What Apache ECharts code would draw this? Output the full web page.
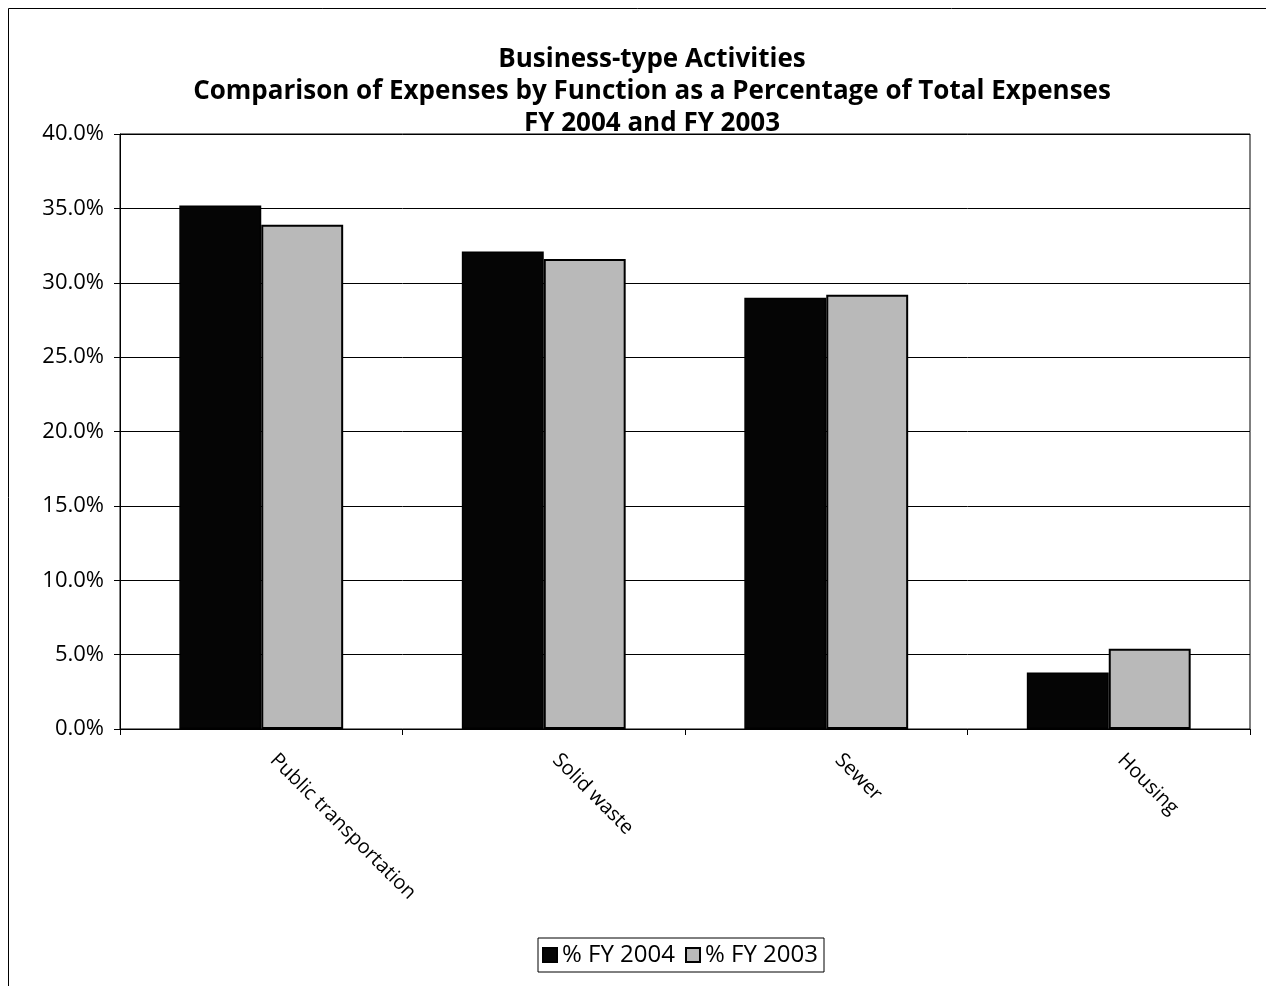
<!DOCTYPE html>
<html>
<head>
<meta charset="utf-8">
<script src="https://cdn.jsdelivr.net/npm/echarts@6/dist/echarts.min.js"></script>
<style>
html,body{margin:0;padding:0;background:#fff;}
#chart{width:1266px;height:986px;}
</style>
</head>
<body>
<div id="chart"></div>
<script>
const categories = ['Public transportation', 'Solid waste', 'Sewer', 'Housing'];
const fy2004 = [35.2, 32.1, 29.0, 3.8];
const fy2003 = [33.9, 31.6, 29.2, 5.4];
const seriesNames = ['% FY 2004', '% FY 2003'];
const titleLines = ['Business-type Activities', 'Comparison of Expenses by Function as a Percentage of Total Expenses', 'FY 2004 and FY 2003'];

const FONT = '"Open Sans", Lato, sans-serif';
const chart = echarts.init(document.getElementById('chart'));
chart.setOption({
  animation: false,
  backgroundColor: '#fff',
  title: {
    text: titleLines.join('\n'),
    left: 647,
    top: 39,
    textAlign: 'center',
    textStyle: {fontFamily: FONT, fontWeight: 'bold', fontSize: 26, lineHeight: 32, color: '#000'}
  },
  graphic: [
    {type: 'line', shape: {x1: 8.5, y1: 8.5, x2: 8.5, y2: 990}, style: {stroke: '#000', lineWidth: 1}},
    {type: 'line', shape: {x1: 8.5, y1: 8.5, x2: 1266, y2: 8.5}, style: {stroke: '#000', lineWidth: 1}}
  ],
  legend: {
    data: seriesNames,
    left: 538,
    top: 938,
    orient: 'horizontal',
    icon: 'rect',
    itemWidth: 14,
    itemHeight: 14,
    itemGap: 10,
    padding: [5, 6, 5, 4],
    borderColor: '#000',
    borderWidth: 1,
    textStyle: {fontFamily: FONT, fontSize: 24, color: '#000'}
  },
  grid: {
    left: 120, right: 16, top: 134, bottom: 257,
    show: true, borderColor: '#000', borderWidth: 1, backgroundColor: 'transparent'
  },
  xAxis: {
    type: 'category',
    data: categories,
    axisLine: {lineStyle: {color: '#000', width: 1}},
    axisTick: {show: true, length: 6, lineStyle: {color: '#000'}},
    axisLabel: {rotate: -45, fontFamily: FONT, fontSize: 20, color: '#000', margin: 16, padding: [0, 0, 0, 17]}
  },
  yAxis: {
    type: 'value',
    min: 0, max: 40, interval: 5,
    axisLine: {show: true, lineStyle: {color: '#000', width: 1}},
    axisTick: {show: true, length: 6, lineStyle: {color: '#000'}},
    axisLabel: {fontFamily: FONT, fontSize: 22, color: '#000', margin: 16, formatter: v => v.toFixed(1) + '%'},
    splitLine: {show: true, lineStyle: {color: '#000', width: 1}}
  },
  series: [
    {
      name: seriesNames[0], type: 'bar', data: fy2004,
      barGap: '0%', barCategoryGap: '42%',
      itemStyle: {color: '#050505', borderColor: '#000', borderWidth: 1.5}
    },
    {
      name: seriesNames[1], type: 'bar', data: fy2003,
      itemStyle: {color: '#b9b9b9', borderColor: '#000', borderWidth: 2}
    }
  ]
});
</script>
</body>
</html>
